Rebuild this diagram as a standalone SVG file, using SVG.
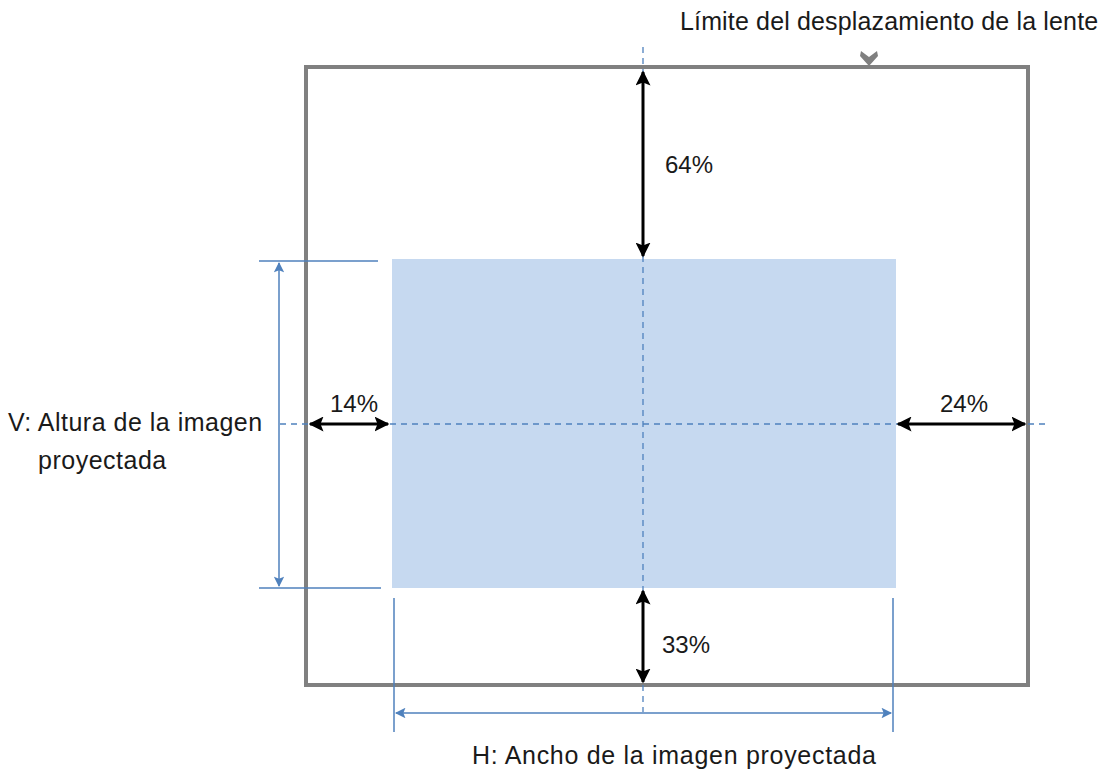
<svg xmlns="http://www.w3.org/2000/svg" width="1115" height="773" viewBox="0 0 1115 773">
<style>
text{font-family:"Liberation Sans",Arial,sans-serif;font-size:25px;fill:#1a1a1a}
.pct{font-size:24px}
.dash{stroke:#4f81bd;stroke-width:1.3;stroke-dasharray:6,5;fill:none}
.blue{stroke:#4f81bd;stroke-width:1.5;fill:none}
.blk{stroke:#000;stroke-width:3;fill:none}
</style>
<defs>
<marker id="ab" viewBox="0 0 10 10" refX="9" refY="5" markerWidth="5" markerHeight="5" orient="auto-start-reverse" markerUnits="strokeWidth"><path d="M0,0 L10,5 L0,10 L2,5 Z" fill="#000"/></marker>
<marker id="abl" viewBox="0 0 10 10" refX="9" refY="5" markerWidth="8" markerHeight="7" orient="auto-start-reverse" markerUnits="strokeWidth"><path d="M0,0 L10,5 L0,10 L2,5 Z" fill="#4f81bd"/></marker>
</defs>
<g id="frame"><rect x="306" y="67" width="722" height="618" fill="none" stroke="#808080" stroke-width="4"/></g>
<g id="image"><rect x="392" y="259" width="504" height="329" fill="#c6d9f0"/></g>
<g id="connectors">
<line class="dash" x1="643" y1="47" x2="643" y2="712"/>
<line class="dash" x1="280" y1="424" x2="1046" y2="424"/>
<line class="blk" x1="643" y1="72" x2="643" y2="256" marker-start="url(#ab)" marker-end="url(#ab)"/>
<line class="blk" x1="643" y1="591" x2="643" y2="682" marker-start="url(#ab)" marker-end="url(#ab)"/>
<line class="blk" x1="310" y1="424" x2="388" y2="424" marker-start="url(#ab)" marker-end="url(#ab)"/>
<line class="blk" x1="898" y1="424" x2="1025" y2="424" marker-start="url(#ab)" marker-end="url(#ab)"/>
<line class="blue" x1="259" y1="261" x2="378" y2="261"/>
<line class="blue" x1="259" y1="588" x2="381" y2="588"/>
<line class="blue" x1="279" y1="263" x2="279" y2="586" marker-start="url(#abl)" marker-end="url(#abl)"/>
<line class="blue" x1="394" y1="598" x2="394" y2="732"/>
<line class="blue" x1="893" y1="598" x2="893" y2="732"/>
<line class="blue" x1="396" y1="713" x2="891" y2="713" stroke-width="2.5" marker-start="url(#abl)" marker-end="url(#abl)"/>
<path d="M861,51 L869,57 L877,51 L878,56 L869,66 L860,56 Z" fill="#808080"/>
</g>
<g id="labels">
<text x="680" y="30" letter-spacing="0.15">Límite del desplazamiento de la lente</text>
<text class="pct" x="665" y="173">64%</text>
<text class="pct" x="662" y="653">33%</text>
<text class="pct" x="330" y="412">14%</text>
<text class="pct" x="940" y="412">24%</text>
<text x="8" y="431" letter-spacing="0.5">V: Altura de la imagen</text>
<text x="38" y="469" letter-spacing="0.5">proyectada</text>
<text x="472" y="764" letter-spacing="0.7">H: Ancho de la imagen proyectada</text>
</g>
</svg>
